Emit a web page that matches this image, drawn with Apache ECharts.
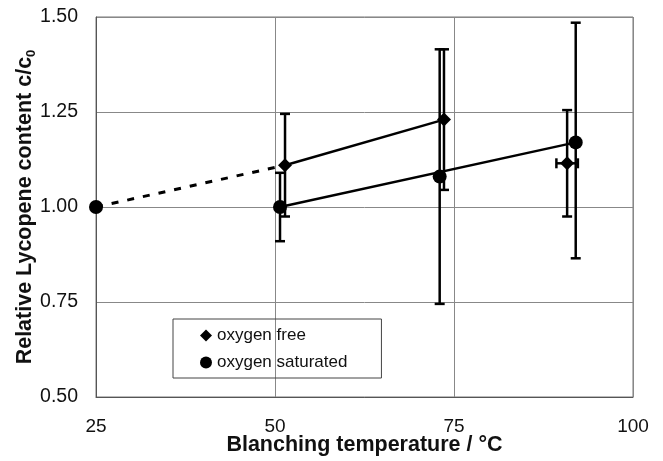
<!DOCTYPE html>
<html>
<head>
<meta charset="utf-8">
<script src="https://cdn.jsdelivr.net/npm/echarts@6/dist/echarts.min.js"></script>
<style>html,body{margin:0;padding:0;background:#fff}#c{width:663px;height:461px}</style>
</head>
<body>
<div id="c"></div>
<script>
// Data
var xTicks = [25, 50, 75, 100];
var yTicks = [0.50, 0.75, 1.00, 1.25, 1.50];

// oxygen free (diamonds)
var freeX    = [51.4, 73.6, 90.8];
var freeY    = [1.11, 1.23, 1.115];
var freeLow  = [0.975, 1.045, 0.975];
var freeHigh = [1.245, 1.415, 1.255];
var freeXErr = [0, 0, 1.5];

// oxygen saturated (circles)
var satX    = [25, 50.7, 73.0, 92.0];
var satY    = [1.00, 1.00, 1.08, 1.17];
var satLow  = [null, 0.91, 0.745, 0.865];
var satHigh = [null, 1.09, 1.415, 1.485];

// connecting lines
var freeLine = [[freeX[0], freeY[0]], [freeX[1], freeY[1]]];
var satLine  = [[satX[1], satY[1]], [satX[3], satY[3]]];
var dashLine = [[satX[0], satY[0]], [freeX[0], freeY[0]]];

function pts(xs, ys) { return xs.map(function (x, i) { return [x, ys[i]]; }); }
function errData(xs, ys, lo, hi, xe) {
  var out = [];
  for (var i = 0; i < xs.length; i++) {
    if (lo[i] == null) continue;
    out.push([xs[i], ys[i], lo[i], hi[i], xe ? xe[i] : 0]);
  }
  return out;
}
function renderErr(params, api) {
  var x = api.value(0), y = api.value(1), lo = api.value(2), hi = api.value(3), xe = api.value(4);
  var top = api.coord([x, hi]);
  var bot = api.coord([x, lo]);
  var cap = 5;
  var st = { stroke: '#000', lineWidth: 2.5 };
  var children = [
    { type: 'line', shape: { x1: top[0], y1: top[1], x2: bot[0], y2: bot[1] }, style: st },
    { type: 'line', shape: { x1: top[0] - cap, y1: top[1], x2: top[0] + cap, y2: top[1] }, style: st },
    { type: 'line', shape: { x1: bot[0] - cap, y1: bot[1], x2: bot[0] + cap, y2: bot[1] }, style: st }
  ];
  if (xe) {
    var l = api.coord([x - xe, y]), r = api.coord([x + xe, y]);
    children.push({ type: 'line', shape: { x1: l[0], y1: l[1], x2: r[0], y2: r[1] }, style: st });
    children.push({ type: 'line', shape: { x1: l[0], y1: l[1] - cap, x2: l[0], y2: l[1] + cap }, style: st });
    children.push({ type: 'line', shape: { x1: r[0], y1: r[1] - cap, x2: r[0], y2: r[1] + cap }, style: st });
  }
  return { type: 'group', children: children };
}

var chart = echarts.init(document.getElementById('c'), null, { renderer: 'canvas' });
var font = 'Liberation Sans, Arial, sans-serif';
chart.setOption({
  animation: false,
  textStyle: { fontFamily: font },
  grid: { left: 96, right: 30, top: 17, bottom: 64, show: true, borderColor: '#777', borderWidth: 1,
    containLabel: false, outerBoundsMode: 'none' },
  xAxis: {
    type: 'value', min: 25, max: 100, interval: 25,
    name: 'Blanching temperature / °C', nameLocation: 'middle', nameGap: 37, nameMoveOverlap: false,
    nameTextStyle: { fontSize: 21.5, fontWeight: 'bold', color: '#111', fontFamily: font },
    axisLine: { lineStyle: { color: '#555', width: 1 } },
    axisTick: { show: false },
    axisLabel: { fontSize: 19, color: '#111', margin: 20, fontFamily: font,
      formatter: function (v) { return xTicks.indexOf(v) >= 0 ? String(v) : ''; } },
    splitLine: { show: true, lineStyle: { color: '#888', width: 1 } }
  },
  yAxis: {
    type: 'value', min: 0.5, max: 1.5, interval: 0.25,
    name: 'Relative Lycopene content c/c{sub|0}', nameLocation: 'middle', nameGap: 58, nameRotate: 90, nameMoveOverlap: false,
    nameTextStyle: { fontSize: 21.5, fontWeight: 'bold', color: '#111', fontFamily: font,
      rich: { sub: { fontSize: 13, fontWeight: 'bold', verticalAlign: 'bottom', padding: [12, 0, 0, 0], color: '#111' } } },
    axisLine: { show: true, lineStyle: { color: '#555', width: 1 } },
    axisTick: { show: false },
    axisLabel: { fontSize: 19.5, color: '#111', margin: 18, fontFamily: font,
      formatter: function (v) { return v.toFixed(2); } },
    splitLine: { show: true, lineStyle: { color: '#888', width: 1 } }
  },
  legend: {
    orient: 'vertical', left: 173, top: 319,
    borderColor: '#444', borderWidth: 1, padding: [8, 34, 7, 27],
    itemGap: 10, itemWidth: 12, itemHeight: 12,
    textStyle: { fontSize: 17, color: '#111', fontFamily: font },
    data: [
      { name: 'oxygen free', icon: 'diamond' },
      { name: 'oxygen saturated', icon: 'circle' }
    ]
  },
  series: [
    { type: 'line', data: dashLine, symbol: 'none', silent: true,
      lineStyle: { color: '#000', width: 3, type: [7, 9] } },
    { type: 'line', data: freeLine, symbol: 'none', silent: true,
      lineStyle: { color: '#000', width: 2.5 } },
    { type: 'line', data: satLine, symbol: 'none', silent: true,
      lineStyle: { color: '#000', width: 2.5 } },
    { type: 'custom', renderItem: renderErr, data: errData(freeX, freeY, freeLow, freeHigh, freeXErr), z: 3 },
    { type: 'custom', renderItem: renderErr, data: errData(satX, satY, satLow, satHigh, null), z: 3 },
    { name: 'oxygen free', type: 'scatter', symbol: 'diamond', symbolSize: 14,
      itemStyle: { color: '#000', opacity: 1 }, data: pts(freeX, freeY), z: 5 },
    { name: 'oxygen saturated', type: 'scatter', symbol: 'circle', symbolSize: 14,
      itemStyle: { color: '#000', opacity: 1 }, data: pts(satX, satY), z: 5 }
  ]
});
</script>
</body>
</html>
